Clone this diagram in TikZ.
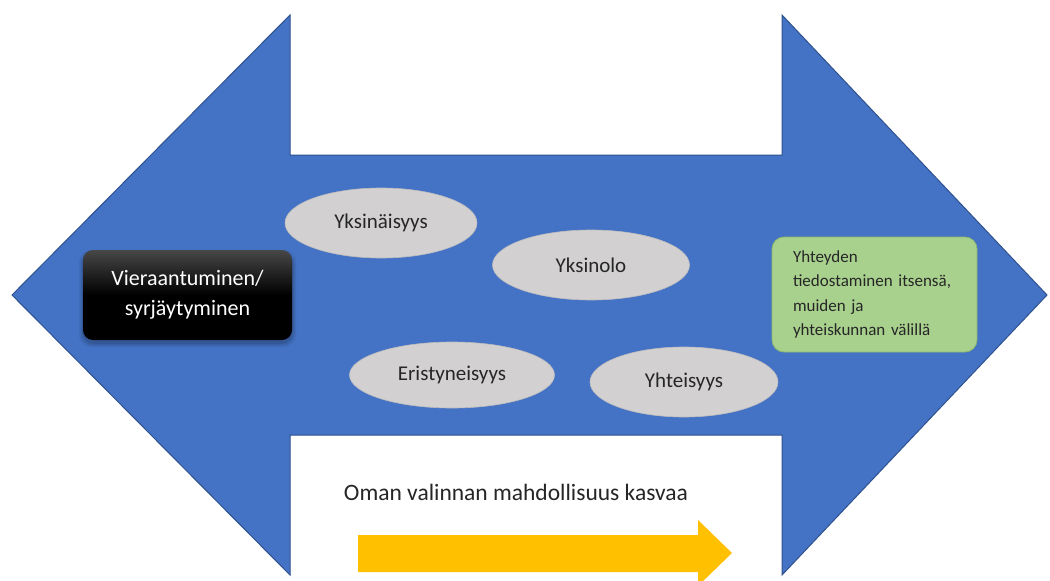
\documentclass[tikz,border=0pt]{standalone}
\usepackage{fontspec}
\setmainfont{Carlito}
\usetikzlibrary{shapes.geometric}

\definecolor{arrowblue}{RGB}{68,114,196}
\definecolor{arrowedge}{RGB}{47,82,143}
\definecolor{bubble}{RGB}{210,208,208}
\definecolor{bubbleedge}{RGB}{188,188,190}
\definecolor{leafgreen}{RGB}{169,209,142}
\definecolor{leafedge}{RGB}{140,184,110}
\definecolor{amber}{RGB}{255,192,0}
\definecolor{ink}{RGB}{38,38,38}

\begin{document}
\begin{tikzpicture}[x=1pt,y=-1pt,
  bubblenode/.style={ellipse, fill=bubble, draw=bubbleedge, line width=0.6pt,
    inner sep=0pt, text=ink, font=\fontsize{21}{25}\selectfont},
  darkbox/.style={rounded corners=10pt, top color=black!72, bottom color=black,
    middle color=black, draw=none, text=white, align=center,
    minimum width=209pt, minimum height=90pt, inner sep=0pt,
    font=\fontsize{22}{30}\selectfont},
  greenbox/.style={rounded corners=12pt, fill=leafgreen, draw=leafedge, line width=0.8pt,
    text=black!85, align=left, text width=163pt, inner xsep=21pt, inner ysep=0pt,
    minimum height=115pt, font=\fontsize{17}{24.5}\selectfont},
  caption/.style={text=ink, inner sep=0pt, font=\fontsize{23.5}{28}\selectfont}
]
  % canvas
  \useasboundingbox (0,0) rectangle (1050,581);
  \fill[white] (0,0) rectangle (1050,581);

  % double-headed block arrow
  \draw[fill=arrowblue, draw=arrowedge, line width=1pt, line join=miter]
    (12,295) -- (290,15) -- (290,155) -- (782,155) -- (782,15) -- (1047,295)
    -- (782,575) -- (782,435) -- (290,435) -- (290,575) -- cycle;

  % end boxes, the dark one with a soft shadow
  \foreach \s/\o in {4/0.06, 2.5/0.08, 1/0.1}
    \fill[black, opacity=\o, rounded corners=12pt]
      (83-\s,251-\s+3) rectangle (292+\s,340+\s+3);
  \node[darkbox] (alien) at (187.5,295) {Vieraantuminen/\\syrjäytyminen};
  \node[greenbox] (bond) at (874.5,294.5)
    {Yhteyden\\tiedostaminen itsensä,\\muiden ja\\yhteiskunnan välillä};

  % states along the axis
  \node[bubblenode, minimum width=192pt, minimum height=70pt] (lonely) at (381,223) {Yksinäisyys};
  \node[bubblenode, minimum width=197pt, minimum height=70pt] (alone) at (591,265) {Yksinolo};
  \node[bubblenode, minimum width=205pt, minimum height=66pt] (isolated) at (452,375) {Eristyneisyys};
  \node[bubblenode, minimum width=188pt, minimum height=70pt] (together) at (684,382) {Yhteisyys};

  % growing freedom of choice
  \node[caption] (choice) at (516,492) {Oman valinnan mahdollisuus kasvaa};
  \begin{scope}
    \clip (0,0) rectangle (1050,581);
    \fill[amber] (358,535) -- (698,535) -- (698,520) -- (732,553)
      -- (698,586) -- (698,572) -- (358,572) -- cycle;
  \end{scope}
\end{tikzpicture}
\end{document}
